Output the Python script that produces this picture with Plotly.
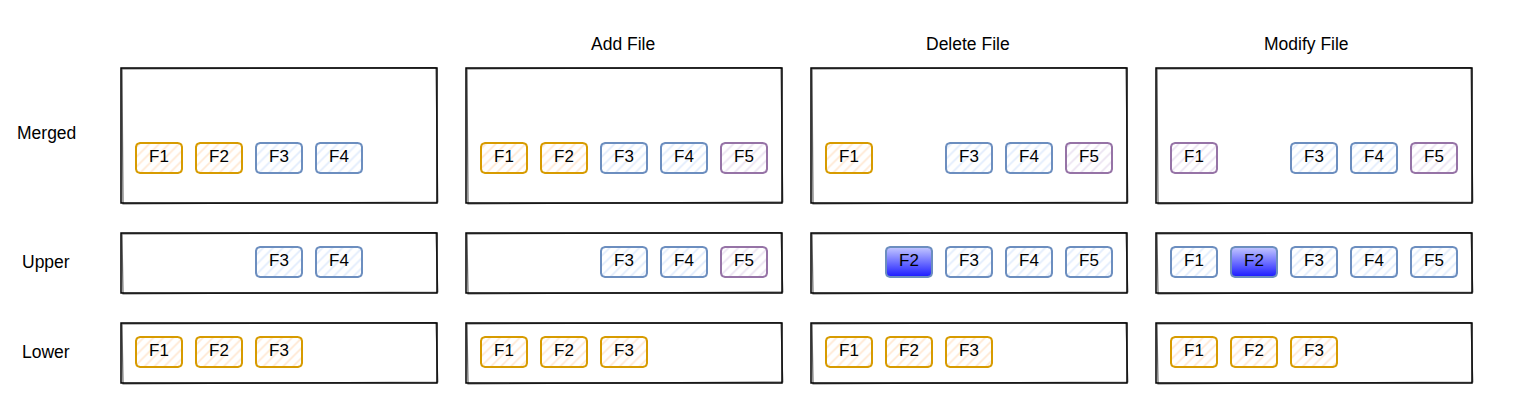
import plotly.graph_objects as go
import numpy as np

# data
columns = ["", "Add File", "Delete File", "Modify File"]
rows = ["Merged", "Upper", "Lower"]
files = ["F1", "F2", "F3", "F4", "F5"]

# L = lower layer file, U = upper layer file, N = new / modified file, W = whiteout
merged = [
    ["L", "L", "U", "U", ""],
    ["L", "L", "U", "U", "N"],
    ["L", "", "U", "U", "N"],
    ["N", "", "U", "U", "N"],
]
upper = [
    ["", "", "U", "U", ""],
    ["", "", "U", "U", "N"],
    ["", "W", "U", "U", "U"],
    ["U", "W", "U", "U", "U"],
]
lower = [
    ["L", "L", "L", "", ""],
    ["L", "L", "L", "", ""],
    ["L", "L", "L", "", ""],
    ["L", "L", "L", "", ""],
]

styles = {
    "L": dict(line="#d79b00", fg="#ffd2a8"),
    "U": dict(line="#6c8ebf", fg="#c6dafa"),
    "N": dict(line="#9673a6", fg="#d8c8e4"),
    "W": dict(line="#6c8ebf", fg=None),
}

# layout in page pixel units (page body has an 8px margin)
W, H = 1521, 412
OFF = 8
col_left = 121
col_step = 345
panel_w = 316
title_shift = [0, -1, -1, -8]
row_top = [68, 233, 323]
row_h = [135, 60, 60]
box_top_off = [75, 14, 14]
box_w, box_h = 46, 30
slot_step = 60
slot_off = 15


def rounded_rect(x0, y0, x1, y1, r=4, n=6):
    xs, ys = [], []
    corners = [(x1 - r, y0 + r, -90, 0), (x1 - r, y1 - r, 0, 90),
               (x0 + r, y1 - r, 90, 180), (x0 + r, y0 + r, 180, 270)]
    for cx, cy, a0, a1 in corners:
        for a in np.linspace(np.radians(a0), np.radians(a1), n):
            xs.append(cx + r * np.cos(a))
            ys.append(cy + r * np.sin(a))
    xs.append(xs[0])
    ys.append(ys[0])
    return xs, ys


fig = go.Figure()
shapes = []
annotations = []

for ci, title in enumerate(columns):
    x0 = col_left + ci * col_step
    if title:
        annotations.append(dict(x=x0 + panel_w / 2 + title_shift[ci], y=44, text=title,
                                showarrow=False, font=dict(size=17.5, color="#000")))
    for ri, layer in enumerate([merged, upper, lower]):
        y0 = row_top[ri]
        # sketchy panel border: two slightly offset strokes
        shapes.append(dict(type="rect", x0=x0, x1=x0 + panel_w, y0=y0, y1=y0 + row_h[ri],
                           line=dict(color="#000", width=1.5), layer="below"))
        shapes.append(dict(type="path",
                           path=f"M{x0+1},{y0+0.8} L{x0+panel_w-1},{y0-0.4} L{x0+panel_w+0.8},{y0+row_h[ri]-1} "
                                f"L{x0+2},{y0+row_h[ri]+0.8} Z",
                           line=dict(color="rgba(0,0,0,0.6)", width=1.2), layer="below"))
        for si, kind in enumerate(layer[ci]):
            if not kind:
                continue
            bx = x0 + slot_off + si * slot_step
            by = y0 + box_top_off[ri]
            xs, ys = rounded_rect(bx, by, bx + box_w, by + box_h)
            st = styles[kind]
            tr = dict(x=xs, y=ys, mode="lines", fill="toself",
                      line=dict(color=st["line"], width=2), hoverinfo="skip", showlegend=False)
            if kind == "W":
                tr["fillgradient"] = dict(type="vertical",
                                          colorscale=[[0, "#1a1aff"], [1, "#c4c8ff"]])
            else:
                tr["fillcolor"] = "white"
                tr["fillpattern"] = dict(shape="/", fgcolor=st["fg"], bgcolor="white",
                                         size=7, solidity=0.25)
            fig.add_trace(go.Scatter(**tr))
            fig.add_trace(go.Scatter(x=[bx + box_w / 2], y=[by + box_h / 2], mode="text",
                                     text=[files[si]], textfont=dict(size=17, color="#000"),
                                     hoverinfo="skip", showlegend=False))

for ri, name in enumerate(rows):
    yc = [133, 262, 352][ri]
    annotations.append(dict(x=46, y=yc, text=name, showarrow=False,
                            font=dict(size=17.5, color="#000")))

fig.update_layout(
    width=W, height=H,
    margin=dict(l=0, r=0, t=0, b=0),
    plot_bgcolor="white", paper_bgcolor="white",
    font=dict(family="Liberation Sans, Arial, sans-serif"),
    shapes=shapes, annotations=annotations,
    xaxis=dict(range=[OFF, W + OFF], visible=False, fixedrange=True),
    yaxis=dict(range=[H + OFF, OFF], visible=False, fixedrange=True),
)

fig.write_html("out.html")
